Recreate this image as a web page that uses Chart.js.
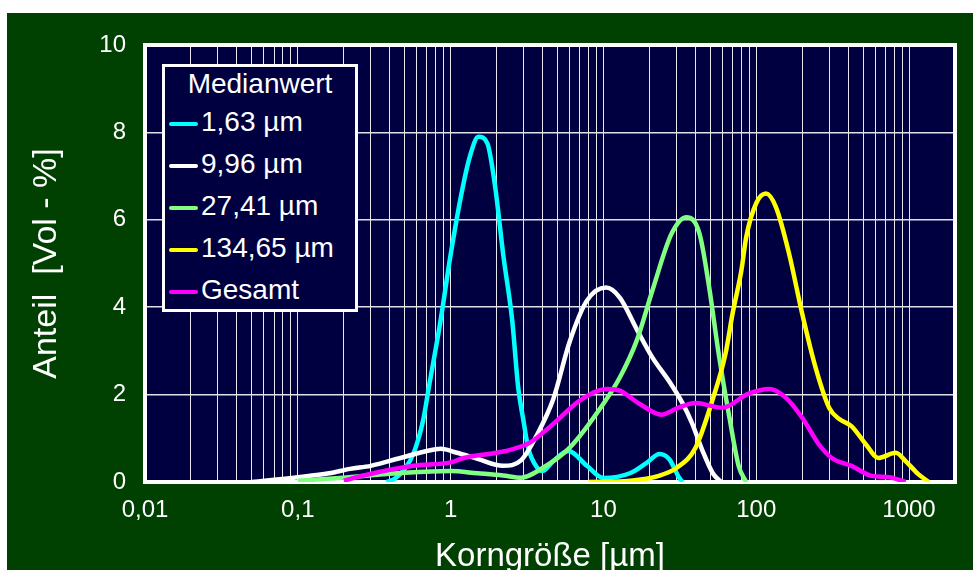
<!DOCTYPE html>
<html>
<head>
<meta charset="utf-8">
<script src="https://cdn.jsdelivr.net/npm/chart.js@4"></script>
<style>
    html, body { margin: 0; padding: 0; background: #ffffff; }
    #frame { position: absolute; left: 7px; top: 13px; width: 966px; height: 557px; background: #004000; }
    #wrap { position: absolute; left: 0; top: 0; width: 973px; height: 570px; }
    #legend {
        position: absolute; left: 162px; top: 64px; width: 190px; height: 242px;
        border: 3px solid #ffffff; background: #000040; color: #ffffff;
        font-family: "Liberation Sans", Arial, sans-serif; font-size: 28px;
    }
    #legend .title { text-align: center; line-height: 34px; height: 34px; }
    #legend .item { line-height: 42px; height: 42px; white-space: nowrap; }
    #legend .swatch { display: inline-block; width: 29px; height: 4px; margin-left: 4px; margin-right: 3px; vertical-align: middle; border-radius: 2px; }
</style>
</head>
<body>
<div id="frame"></div>
<div id="wrap"><canvas id="chart"></canvas></div>
<div id="legend"><div class="title">Medianwert</div><div id="legendItems"></div></div>
<script>
const xTickValues = [0.01, 0.1, 1, 10, 100, 1000];
const xTickLabels = ["0,01", "0,1", "1", "10", "100", "1000"];
const xTitle = "Korngröße [µm]";
const yTitle = "Anteil  [Vol - %]";
const legendTitle = "Medianwert";

const cyanSizes = [0.38, 0.43, 0.5, 0.57, 0.66, 0.72, 0.86, 1.0, 1.2, 1.35, 1.52, 1.74, 1.96, 2.21, 2.53, 2.77, 3.0, 3.22, 3.7, 4.0, 4.7, 5.9, 7.8, 10, 14.9, 19.2, 23.3, 27, 31.4, 33];
const cyanValues = [0, 0.07, 0.3, 0.64, 1.4, 2.16, 3.7, 5.2, 6.74, 7.5, 7.9, 7.75, 6.74, 5.2, 3.7, 2.16, 1.4, 0.78, 0.32, 0.25, 0.48, 0.71, 0.37, 0.09, 0.2, 0.44, 0.64, 0.52, 0.09, 0];

const whiteSizes = [0.05, 0.1, 0.16, 0.22, 0.3, 0.47, 0.7, 0.86, 1.1, 1.5, 2.2, 2.9, 3.7, 4.7, 6.0, 7.8, 10.4, 12.8, 16.5, 21, 27, 33, 38, 44.5, 52, 59];
const whiteValues = [0, 0.11, 0.2, 0.3, 0.37, 0.55, 0.71, 0.76, 0.67, 0.53, 0.37, 0.5, 1.1, 1.9, 3.2, 4.15, 4.45, 4.22, 3.5, 2.84, 2.3, 1.8, 1.35, 0.72, 0.2, 0];

const greenSizes = [0.1, 0.2, 0.5, 1.0, 1.5, 2.2, 2.9, 4.0, 6.0, 10, 12.8, 16.5, 21, 28, 35, 42.5, 49, 57, 67, 77, 86];
const greenValues = [0.03, 0.1, 0.21, 0.25, 0.2, 0.15, 0.1, 0.32, 0.78, 1.79, 2.39, 3.23, 4.4, 5.69, 6.06, 5.69, 4.5, 2.9, 1.45, 0.35, 0];

const yellowSizes = [8, 15, 23, 30, 40, 52, 63, 70, 80, 86, 100, 116, 135, 164, 200, 245, 300, 350, 420, 520, 630, 820, 950, 1150, 1350];
const yellowValues = [0, 0.03, 0.14, 0.32, 0.78, 1.9, 2.94, 3.85, 4.84, 5.6, 6.38, 6.6, 6.28, 5.23, 3.85, 2.61, 1.7, 1.44, 1.28, 0.87, 0.55, 0.67, 0.48, 0.18, 0];

const totalSizes = [0.2, 0.27, 0.57, 1.0, 1.22, 2.0, 2.6, 3.3, 4.7, 7.0, 10.6, 12.8, 17.2, 24, 31, 40, 60, 89, 122, 156, 200, 256, 312, 420, 570, 740, 950];
const totalValues = [0.03, 0.15, 0.37, 0.45, 0.55, 0.67, 0.76, 0.9, 1.33, 1.86, 2.13, 2.09, 1.79, 1.54, 1.7, 1.81, 1.7, 2.02, 2.13, 1.93, 1.47, 0.87, 0.55, 0.37, 0.14, 0.11, 0];

const seriesLabels = ["1,63 µm", "9,96 µm", "27,41 µm", "134,65 µm", "Gesamt"];
const seriesColors = ["#00ffff", "#ffffff", "#80ff80", "#ffff00", "#ff00ff"];

const fontFamily = "'Liberation Sans', Arial, sans-serif";

function toPoints(sizes, values) {
    return sizes.map((x, i) => ({ x, y: values[i] }));
}

// vertical grid lines at 1..9 x each decade
const gridValues = [];
for (let e = -2; e <= 3; e++) {
    for (let m = 1; m <= 9; m++) {
        const v = m * Math.pow(10, e);
        if (v <= 2000) gridValues.push(v);
    }
}
gridValues.push(2000);

const plotBackground = {
    id: "plotBackground",
    beforeDraw(chart) {
        const { ctx, chartArea: a } = chart;
        ctx.save();
        ctx.fillStyle = "#000040";
        ctx.fillRect(a.left, a.top, a.right - a.left, a.bottom - a.top);
        ctx.restore();
    },
    beforeDatasetsDraw(chart) {
        const { ctx, chartArea: a } = chart;
        ctx.save();
        ctx.strokeStyle = "#ffffff";
        ctx.lineWidth = 4;
        ctx.strokeRect(a.left, a.top, a.right - a.left, a.bottom - a.top);
        ctx.restore();
    },
};

const allSeries = [
    toPoints(cyanSizes, cyanValues),
    toPoints(whiteSizes, whiteValues),
    toPoints(greenSizes, greenValues),
    toPoints(yellowSizes, yellowValues),
    toPoints(totalSizes, totalValues),
];

const chart = new Chart(document.getElementById("chart"), {
    type: "line",
    data: {
        datasets: allSeries.map((points, i) => ({
            label: seriesLabels[i],
            data: points,
            borderColor: seriesColors[i],
            borderWidth: 4.5,
            pointRadius: 0,
            cubicInterpolationMode: "monotone",
            fill: false,
            order: allSeries.length - i,
        })),
    },
    options: {
        responsive: true,
        maintainAspectRatio: false,
        animation: false,
        layout: { padding: { top: 45, right: 18, left: 0, bottom: 0 } },
        plugins: {
            legend: { display: false },
            tooltip: { enabled: false },
        },
        scales: {
            x: {
                type: "logarithmic",
                min: 0.01,
                max: 2000,
                afterBuildTicks: (scale) => {
                    scale.ticks = gridValues.map((value) => ({ value }));
                },
                afterFit: (scale) => { scale.height = 88; },
                border: { display: false },
                grid: { color: "rgba(255, 255, 255, 0.9)", lineWidth: 1, drawTicks: false },
                ticks: {
                    autoSkip: false,
                    maxRotation: 0,
                    padding: 14,
                    color: "#ffffff",
                    font: { family: fontFamily, size: 24 },
                    callback: (value) => {
                        const i = xTickValues.findIndex((t) => Math.abs(Math.log10(t) - Math.log10(value)) < 1e-6);
                        return i >= 0 ? xTickLabels[i] : "";
                    },
                },
                title: {
                    display: true,
                    text: xTitle,
                    color: "#ffffff",
                    font: { family: fontFamily, size: 33, lineHeight: 1 },
                    padding: { top: 0, bottom: -3 },
                },
            },
            y: {
                min: 0,
                max: 10,
                afterFit: (scale) => { scale.width = 145; },
                border: { display: false },
                grid: { color: "#e0e0e8", lineWidth: 1.5, drawTicks: false },
                ticks: {
                    stepSize: 2,
                    padding: 19,
                    color: "#ffffff",
                    font: { family: fontFamily, size: 24 },
                },
                title: {
                    display: true,
                    text: yTitle,
                    color: "#ffffff",
                    font: { family: fontFamily, size: 34, lineHeight: 1.2 },
                    padding: { top: 26, bottom: 0 },
                },
            },
        },
    },
    plugins: [plotBackground],
});

const legendItems = document.getElementById("legendItems");
document.querySelector("#legend .title").textContent = legendTitle;
chart.data.datasets.forEach((ds) => {
    const row = document.createElement("div");
    row.className = "item";
    const swatch = document.createElement("span");
    swatch.className = "swatch";
    swatch.style.background = ds.borderColor;
    row.appendChild(swatch);
    row.appendChild(document.createTextNode(ds.label));
    legendItems.appendChild(row);
});
</script>
</body>
</html>
